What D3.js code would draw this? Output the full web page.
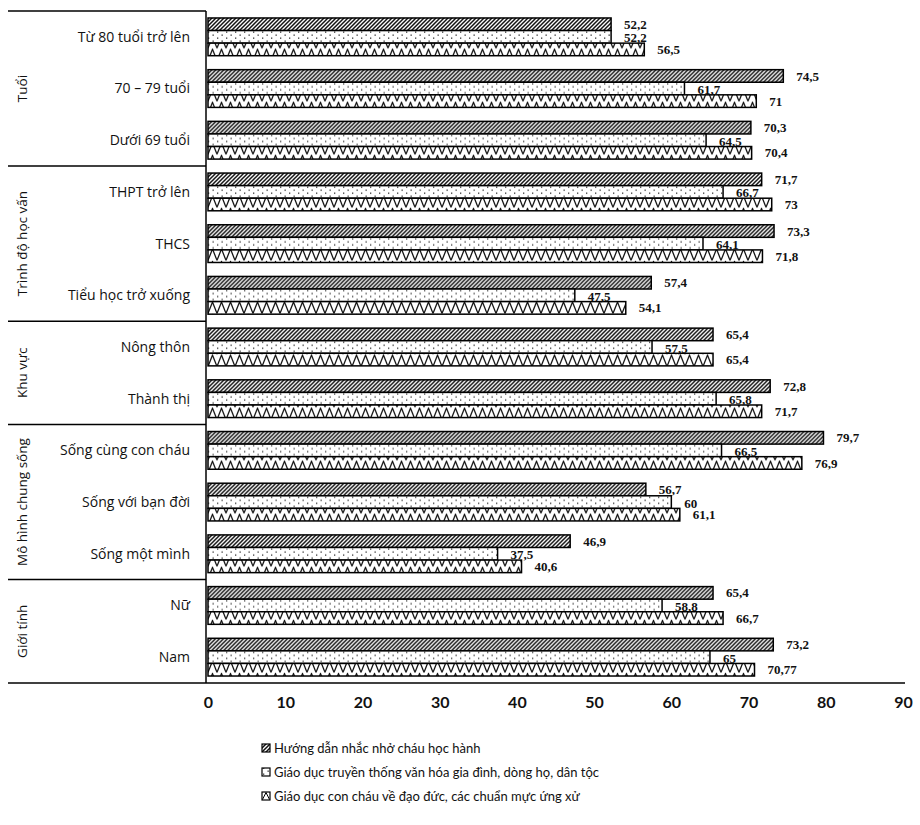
<!DOCTYPE html>
<html>
<head>
<meta charset="utf-8">
<script src="https://cdn.jsdelivr.net/npm/d3@7"></script>
<style>
  body { margin: 0; background: #fff; }
  svg { display: block; }
</style>
</head>
<body>
<svg id="chart" width="920" height="825"></svg>
<script>
// Categories, top to bottom
const categories = [
  "Từ 80 tuổi trở lên", "70 – 79 tuổi", "Dưới 69 tuổi",
  "THPT trở lên", "THCS", "Tiểu học trở xuống",
  "Nông thôn", "Thành thị",
  "Sống cùng con cháu", "Sống với bạn đời", "Sống một mình",
  "Nữ", "Nam"
];
// Grouping of the categories
const groupNames = ["Tuổi", "Trình độ học vấn", "Khu vực", "Mô hình chung sống", "Giới tính"];
const groupSizes = [3, 3, 2, 3, 2];

// Series (%)
const seriesNames = [
  "Hướng dẫn nhắc nhở cháu học hành",
  "Giáo dục truyền thống văn hóa gia đình, dòng họ, dân tộc",
  "Giáo dục con cháu về đạo đức, các chuẩn mực ứng xử"
];
const huongDan    = [52.2, 74.5, 70.3, 71.7, 73.3, 57.4, 65.4, 72.8, 79.7, 56.7, 46.9, 65.4, 73.2];
const truyenThong = [52.2, 61.7, 64.5, 66.7, 64.1, 47.5, 57.5, 65.8, 66.5, 60,   37.5, 58.8, 65];
const daoDuc      = [56.5, 71,   70.4, 73,   71.8, 54.1, 65.4, 71.7, 76.9, 61.1, 40.6, 66.7, 70.77];
const xTicks = [0, 10, 20, 30, 40, 50, 60, 70, 80, 90];

const seriesValues = [huongDan, truyenThong, daoDuc];
const seriesKeys = ["s0", "s1", "s2"];

const svg = d3.select("#chart");
const defs = svg.append("defs");

const x = d3.scaleLinear().domain([0, 90]).range([208, 903]);
const y = d3.scaleBand().domain(categories).range([11, 683])
  .paddingInner(0.27).paddingOuter(0.135);
const ySub = d3.scaleBand().domain(seriesKeys).range([0, y.bandwidth()]);
const bh = ySub.bandwidth();

// Fill patterns
const hatch = defs.append("pattern").attr("id", "p-hatch")
  .attr("patternUnits", "userSpaceOnUse").attr("width", 4).attr("height", 4);
hatch.append("rect").attr("width", 4).attr("height", 4).attr("fill", "#fff");
hatch.append("path").attr("d", "M-1,1 l2,-2 M0,4 l4,-4 M3,5 l2,-2")
  .attr("stroke", "#111").attr("stroke-width", 1.5);

const dots = defs.append("pattern").attr("id", "p-dots")
  .attr("patternUnits", "userSpaceOnUse").attr("width", 9).attr("height", 6);
dots.append("rect").attr("width", 9).attr("height", 6).attr("fill", "#fff");
dots.append("rect").attr("x", 1).attr("y", 1.5).attr("width", 1.3).attr("height", 1.3).attr("fill", "#333");
dots.append("rect").attr("x", 5.5).attr("y", 4.5).attr("width", 1.3).attr("height", 1.3).attr("fill", "#333");

// zigzag pattern aligned to each bar row
categories.forEach((c, i) => {
  const top = y(c) + ySub("s2");
  const p = defs.append("pattern").attr("id", "p-zig-" + i)
    .attr("patternUnits", "userSpaceOnUse")
    .attr("x", x(0)).attr("y", top).attr("width", 9).attr("height", bh);
  p.append("rect").attr("width", 9).attr("height", bh).attr("fill", "#fff");
  p.append("path").attr("d", `M0,${bh - 0.5} L4.5,0.8 L9,${bh - 0.5}`)
    .attr("fill", "none").attr("stroke", "#111").attr("stroke-width", 1.3);
});

const fills = [
  () => "url(#p-hatch)",
  () => "url(#p-dots)",
  (i) => "url(#p-zig-" + i + ")"
];

// Bars
const rows = svg.append("g").selectAll("g").data(categories).join("g")
  .attr("transform", d => `translate(0,${y(d)})`);

seriesKeys.forEach((k, s) => {
  rows.append("rect")
    .attr("x", x(0))
    .attr("y", ySub(k))
    .attr("width", (d, i) => x(seriesValues[s][i]) - x(0))
    .attr("height", bh)
    .attr("fill", (d, i) => fills[s](i))
    .attr("stroke", "#000")
    .attr("stroke-width", 1.5);
});

// Value labels
const fmt = v => String(v).replace(".", ",");
seriesKeys.forEach((k, s) => {
  rows.append("text")
    .attr("x", (d, i) => x(seriesValues[s][i]) + 13)
    .attr("y", ySub(k) + bh / 2 + (s === 1 ? 1 : 0))
    .attr("dy", "0.35em")
    .attr("font-family", "Liberation Serif, serif")
    .attr("font-weight", "bold")
    .attr("font-size", 13)
    .attr("fill", "#111")
    .text((d, i) => fmt(seriesValues[s][i]));
});

// Category labels
svg.append("g").selectAll("text").data(categories).join("text")
  .attr("x", 190)
  .attr("y", d => y(d) + y.bandwidth() / 2)
  .attr("dy", "0.35em")
  .attr("text-anchor", "end")
  .attr("font-family", "Open Sans, sans-serif")
  .attr("font-size", 14)
  .attr("fill", "#111")
  .text(d => d);

// Group frame and group labels
const frame = svg.append("g").attr("stroke", "#000").attr("stroke-width", 1.5);
let idx = 0;
const bounds = [y.range()[0]];
groupSizes.forEach(n => { idx += n; bounds.push(y.range()[0] + y.step() * idx); });
bounds.forEach(b => {
  frame.append("line").attr("x1", 8).attr("x2", 206).attr("y1", b).attr("y2", b);
});
frame.append("line").attr("x1", 206).attr("x2", 206).attr("y1", bounds[0]).attr("y2", 683);
// baseline under the plot
frame.append("line").attr("x1", 206).attr("x2", 905).attr("y1", 683).attr("y2", 683);

groupNames.forEach((g, i) => {
  const cy = (bounds[i] + bounds[i + 1]) / 2;
  svg.append("text")
    .attr("transform", `translate(22,${cy}) rotate(-90)`)
    .attr("text-anchor", "middle")
    .attr("dy", "0.35em")
    .attr("font-family", "Open Sans, sans-serif")
    .attr("font-size", 13.5)
    .attr("fill", "#111")
    .text(g);
});

// X axis
const xAxis = d3.axisBottom(x).tickValues(xTicks).tickSize(0).tickPadding(0);
const ax = svg.append("g").attr("transform", "translate(0,697)").call(xAxis);
ax.select(".domain").remove();
ax.selectAll("text")
  .attr("font-family", "Lato, sans-serif")
  .attr("font-weight", "bold")
  .attr("font-size", 16)
  .attr("fill", "#111");

// Legend
const legend = svg.append("g").attr("transform", "translate(262,748)");
const legendFills = ["url(#p-hatch)", "url(#p-dots)", "#fff"];
const li = legend.selectAll("g").data(seriesNames).join("g")
  .attr("transform", (d, i) => `translate(0,${i * 24})`);
li.append("rect").attr("x", 0).attr("y", -4).attr("width", 8).attr("height", 8)
  .attr("fill", (d, i) => legendFills[i])
  .attr("stroke", "#000").attr("stroke-width", 1.2);
li.filter((d, i) => i === 2).append("path")
  .attr("d", "M0.5,3.5 L4,-3.5 L7.5,3.5").attr("fill", "none").attr("stroke", "#000").attr("stroke-width", 1);
li.append("text").attr("x", 12).attr("dy", "0.35em")
  .attr("font-family", "Lato, sans-serif").attr("font-size", 13).attr("fill", "#111")
  .text(d => d);
</script>
</body>
</html>
